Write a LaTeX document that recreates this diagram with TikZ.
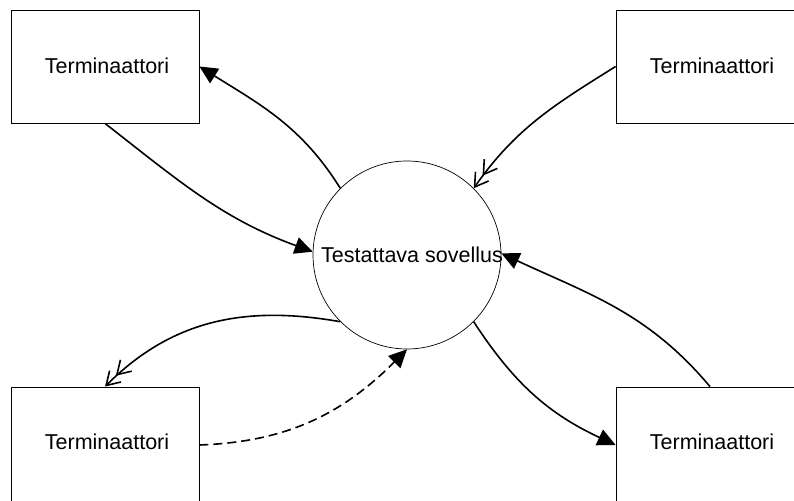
\documentclass[tikz,border=0pt]{standalone}
\usepackage{fontspec}
\setmainfont{Liberation Sans}
\usetikzlibrary{arrows.meta}

\tikzset{
  term/.style={draw=black, line width=0.8pt, rectangle,
    minimum width=188pt, minimum height=113pt, inner sep=0pt},
  label/.style={font=\fontsize{21.5}{26}\selectfont, inner sep=0pt},
  flow/.style={line width=1.6pt},
  solidhead/.style={-{Triangle[length=18pt,width=17pt]}},
  openhead/.style={-{Straight Barb[length=13pt,width=16pt]Straight Barb[length=13pt,width=16pt]}},
}

\begin{document}
\begin{tikzpicture}[x=1pt,y=1pt]
  \path[use as bounding box, clip] (0,0) rectangle (794,500);
  \fill[white] (0,0) rectangle (794,500);

  % terminators in the four corners
  \node[term] (tl) at (105,433.5) {};
  \node[term] (tr) at (710,433.5) {};
  \node[term, minimum height=116pt] (bl) at (105,55) {};
  \node[term, minimum height=116pt] (br) at (710,55) {};
  \node[label] (tltext) at (107,434) {Terminaattori};
  \node[label] (trtext) at (712,434) {Terminaattori};
  \node[label] (bltext) at (107,58) {Terminaattori};
  \node[label] (brtext) at (712,58) {Terminaattori};

  % application under test
  \node[circle, draw, line width=0.7pt, minimum size=188pt, inner sep=0pt] (app) at (407,245) {};
  \node[label] (apptext) at (412,245) {Testattava sovellus};

  % data flows
  \draw[flow, solidhead] (app.135) to[out=122, in=-32] (tl.east);
  \draw[flow, solidhead] (tl.south) to[out=-38, in=160] (app.178);
  \draw[flow, openhead] (tr.west) to[out=212, in=55] (app.45);
  \draw[flow, solidhead] (br.north) to[out=130, in=-25] (app.1);
  \draw[flow, solidhead] (app.-45) to[out=-57, in=155] (br.west);
  \draw[flow, openhead] (app.-135) to[out=170, in=45] (bl.north);
  \draw[flow, solidhead, dash pattern=on 9pt off 5pt] (bl.east) to[out=2, in=225] (app.south);
\end{tikzpicture}
\end{document}
